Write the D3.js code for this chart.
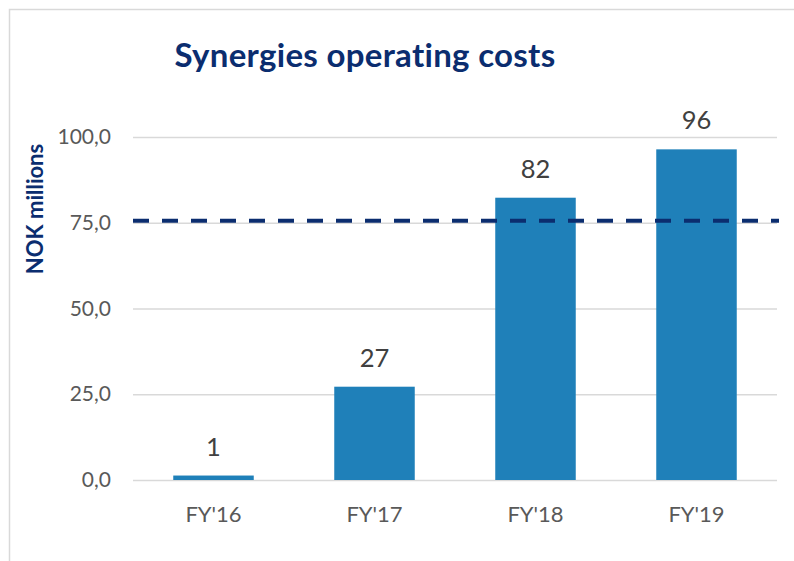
<!DOCTYPE html>
<html>
<head>
<meta charset="utf-8">
<script src="https://d3js.org/d3.v7.min.js"></script>
<style>
  body { margin: 0; background: #fff; }
  svg text { font-family: Lato, "Open Sans", sans-serif; }
</style>
</head>
<body>
<div id="chart"></div>
<script>
var categories = ["FY'16", "FY'17", "FY'18", "FY'19"];
var values = [1.3, 27.2, 82.3, 96.4];
var valueLabels = ["1", "27", "82", "96"];
var yTicks = [0, 25, 50, 75, 100];
var target = 75.6;

var size = {width: 794, height: 561};
var margin = {top: 137, right: 17, bottom: 81, left: 133},
  width  = size.width - margin.left - margin.right,
  height = size.height - margin.top - margin.bottom;

var x = d3.scaleBand().domain(categories).range([0, width]).paddingInner(0.5).paddingOuter(0.25);
var y = d3.scaleLinear().domain([0, 100]).range([height, 0]);

var svg = d3.select('#chart').append('svg')
  .attr('width', size.width)
  .attr('height', size.height);

// frame
svg.append('rect')
  .attr('x', 9.5).attr('y', 9.5)
  .attr('width', 900).attr('height', 900)
  .attr('fill', 'none')
  .attr('stroke', '#d9d9d9')
  .attr('stroke-width', 1.5);

svg.append('text')
  .attr('x', 365).attr('y', 67)
  .attr('text-anchor', 'middle')
  .attr('fill', '#0b2d6f')
  .style('font-size', '33px')
  .style('font-weight', 'bold')
  .style('letter-spacing', '0.3px')
  .text('Synergies operating costs');

var g = svg.append('g')
  .attr('transform', 'translate(' + margin.left + ',' + margin.top + ')');

// grid + y labels
var yAxis = d3.axisLeft(y).tickValues(yTicks).tickSize(-width).tickPadding(22)
  .tickFormat(function(d) { return d3.format('.1f')(d).replace('.', ','); });
var yg = g.append('g').call(yAxis);
yg.select('.domain').remove();
yg.selectAll('.tick line').attr('stroke', '#d9d9d9').attr('stroke-width', 1.5);
yg.selectAll('.tick text').attr('fill', '#595959').style('font-size', '21px');

// x labels
var xg = g.append('g')
  .attr('transform', 'translate(0,' + height + ')')
  .call(d3.axisBottom(x).tickSize(0).tickPadding(26));
xg.select('.domain').remove();
xg.selectAll('.tick text').attr('fill', '#595959').style('font-size', '22px');

// bars
g.selectAll('.bar')
  .data(values)
  .enter().append('rect')
  .attr('class', 'bar')
  .attr('x', function(d, i) { return x(categories[i]); })
  .attr('y', function(d) { return y(d); })
  .attr('width', x.bandwidth())
  .attr('height', function(d) { return height - y(d); })
  .attr('fill', '#1f80b9');

g.selectAll('.val')
  .data(values)
  .enter().append('text')
  .attr('class', 'val')
  .attr('x', function(d, i) { return x(categories[i]) + x.bandwidth() / 2; })
  .attr('y', function(d) { return y(d) - 20; })
  .attr('text-anchor', 'middle')
  .attr('fill', '#404040')
  .style('font-size', '25.5px')
  .text(function(d, i) { return valueLabels[i]; });

// target line
g.append('line')
  .attr('x1', 0).attr('x2', width + 2)
  .attr('y1', y(target)).attr('y2', y(target))
  .attr('stroke', '#0b2d6f')
  .attr('stroke-width', 4)
  .attr('stroke-dasharray', '16,13');

// y title
svg.append('text')
  .attr('transform', 'translate(43,209) rotate(-90)')
  .attr('text-anchor', 'middle')
  .attr('fill', '#0b2d6f')
  .style('font-size', '22px')
  .style('font-weight', 'bold')
  .text('NOK millions');
</script>
</body>
</html>
